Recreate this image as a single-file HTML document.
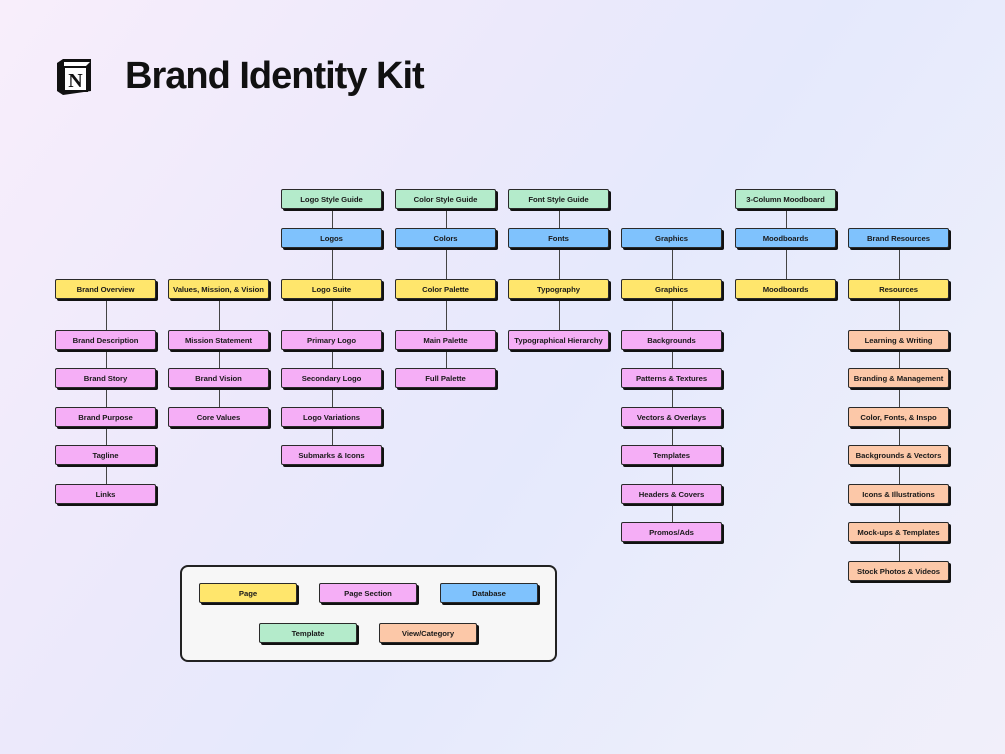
<!DOCTYPE html>
<html><head><meta charset="utf-8"><style>
*{margin:0;padding:0;box-sizing:border-box}
body{width:1005px;height:754px;overflow:hidden;position:relative;font-family:"Liberation Sans",Arial,sans-serif;
background:linear-gradient(125deg,#f8eefb 0%,#ece9fb 35%,#e5e9fc 55%,#eceefb 80%,#f1effa 100%)}
.n{position:absolute;width:101px;height:20px;border:1px solid #2a2a2a;border-radius:2px;box-shadow:2px 2px 0 #111;
font-weight:bold;font-size:7.7px;color:#1a1a1a;display:flex;align-items:center;justify-content:center;white-space:nowrap;letter-spacing:-0.05px}
.y{background:#ffe66c}.p{background:#f5aef6}.b{background:#7fc2fd}.g{background:#b4ebcb}.o{background:#fcc8a8}
.l{position:absolute;width:1.3px;background:#444}
.c0{left:55px}.c1{left:168px}.c2{left:281px}.c3{left:395px}.c4{left:508px}.c5{left:621px}.c6{left:735px}.c7{left:848px}
.r0{top:189px}.r1{top:228px}.r2{top:279px}.r3{top:330px}.r4{top:368px}.r5{top:407px}.r6{top:445px}.r7{top:484px}.r8{top:522px}.r9{top:561px}
</style></head><body>
<svg style="position:absolute;left:55px;top:57px" width="40" height="40" viewBox="0 0 40 40">
<path d="M2 6 L8 2 L36 2 L36 34 L8 38 L2 34 Z" fill="#111"/>
<path d="M9 5 L35 5 L31 9 L9 9 Z" fill="#fff"/>
<rect x="9" y="10" width="23" height="24" fill="#fff" stroke="#111" stroke-width="2"/>
<text x="20.5" y="30" font-family="Liberation Serif,serif" font-weight="bold" font-size="20" text-anchor="middle" fill="#111">N</text>
</svg>
<div style="position:absolute;left:125px;top:54px;font-size:38px;font-weight:bold;letter-spacing:-1px;color:#111;line-height:44px">Brand Identity Kit</div>

<div class="l" style="left:106px;top:298px;height:195px"></div>
<div class="l" style="left:219px;top:298px;height:118px"></div>
<div class="l" style="left:332px;top:208px;height:248px"></div>
<div class="l" style="left:446px;top:208px;height:170px"></div>
<div class="l" style="left:559px;top:208px;height:132px"></div>
<div class="l" style="left:672px;top:247px;height:285px"></div>
<div class="l" style="left:786px;top:208px;height:80px"></div>
<div class="l" style="left:899px;top:247px;height:323px"></div>

<div class="n y c0 r2">Brand Overview</div>
<div class="n p c0 r3">Brand Description</div>
<div class="n p c0 r4">Brand Story</div>
<div class="n p c0 r5">Brand Purpose</div>
<div class="n p c0 r6">Tagline</div>
<div class="n p c0 r7">Links</div>

<div class="n y c1 r2">Values, Mission, &amp; Vision</div>
<div class="n p c1 r3">Mission Statement</div>
<div class="n p c1 r4">Brand Vision</div>
<div class="n p c1 r5">Core Values</div>

<div class="n g c2 r0">Logo Style Guide</div>
<div class="n b c2 r1">Logos</div>
<div class="n y c2 r2">Logo Suite</div>
<div class="n p c2 r3">Primary Logo</div>
<div class="n p c2 r4">Secondary Logo</div>
<div class="n p c2 r5">Logo Variations</div>
<div class="n p c2 r6">Submarks &amp; Icons</div>

<div class="n g c3 r0">Color Style Guide</div>
<div class="n b c3 r1">Colors</div>
<div class="n y c3 r2">Color Palette</div>
<div class="n p c3 r3">Main Palette</div>
<div class="n p c3 r4">Full Palette</div>

<div class="n g c4 r0">Font Style Guide</div>
<div class="n b c4 r1">Fonts</div>
<div class="n y c4 r2">Typography</div>
<div class="n p c4 r3">Typographical Hierarchy</div>

<div class="n b c5 r1">Graphics</div>
<div class="n y c5 r2">Graphics</div>
<div class="n p c5 r3">Backgrounds</div>
<div class="n p c5 r4">Patterns &amp; Textures</div>
<div class="n p c5 r5">Vectors &amp; Overlays</div>
<div class="n p c5 r6">Templates</div>
<div class="n p c5 r7">Headers &amp; Covers</div>
<div class="n p c5 r8">Promos/Ads</div>

<div class="n g c6 r0">3-Column Moodboard</div>
<div class="n b c6 r1">Moodboards</div>
<div class="n y c6 r2">Moodboards</div>

<div class="n b c7 r1">Brand Resources</div>
<div class="n y c7 r2">Resources</div>
<div class="n o c7 r3">Learning &amp; Writing</div>
<div class="n o c7 r4">Branding &amp; Management</div>
<div class="n o c7 r5">Color, Fonts, &amp; Inspo</div>
<div class="n o c7 r6">Backgrounds &amp; Vectors</div>
<div class="n o c7 r7">Icons &amp; Illustrations</div>
<div class="n o c7 r8">Mock-ups &amp; Templates</div>
<div class="n o c7 r9">Stock Photos &amp; Videos</div>

<div style="position:absolute;left:180px;top:565px;width:377px;height:97px;border:2px solid #222;border-radius:8px;background:#f7f7f7"></div>
<div class="n y" style="left:199px;top:583px;width:98px">Page</div>
<div class="n p" style="left:319px;top:583px;width:98px">Page Section</div>
<div class="n b" style="left:440px;top:583px;width:98px">Database</div>
<div class="n g" style="left:259px;top:623px;width:98px">Template</div>
<div class="n o" style="left:379px;top:623px;width:98px">View/Category</div>
</body></html>
